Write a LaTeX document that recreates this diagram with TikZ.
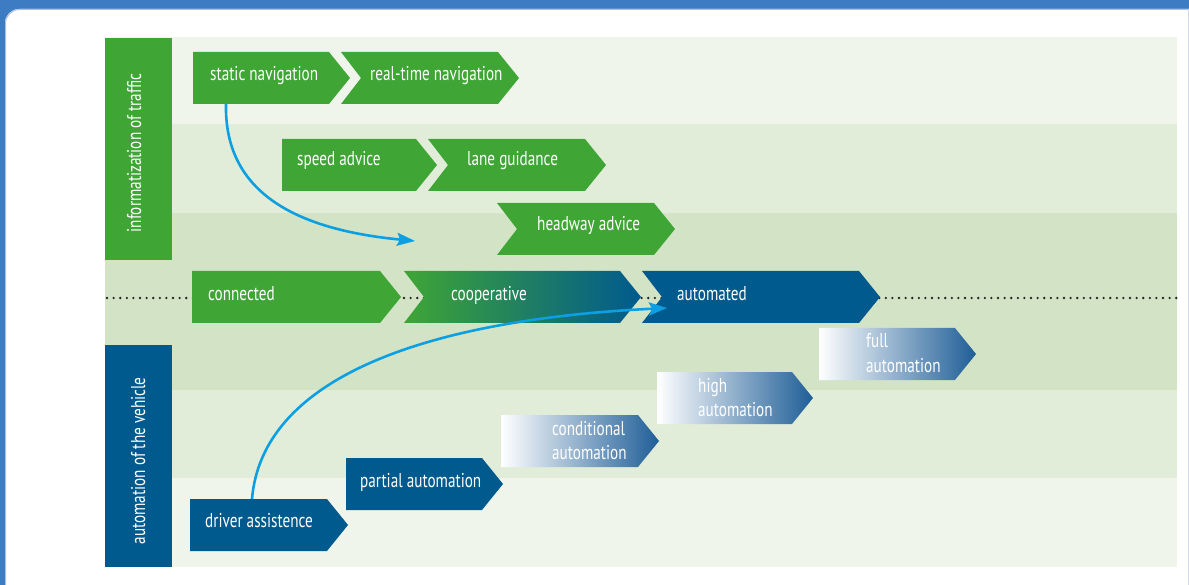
\documentclass[tikz,border=0pt]{standalone}
\usepackage{fontspec}
\setmainfont[FakeStretch=0.76]{PT Sans}
\usetikzlibrary{arrows.meta}

\definecolor{frameblue}{HTML}{3D7CC2}
\definecolor{edgecol}{HTML}{AFC0D8}
\definecolor{bandA}{HTML}{EFF5EA}
\definecolor{bandB}{HTML}{E1EDD9}
\definecolor{bandC}{HTML}{D3E4C6}
\definecolor{tgreen}{HTML}{3FA535}
\definecolor{vblue}{HTML}{005A8E}
\definecolor{arrowblue}{HTML}{0CA0E3}
\definecolor{gradmid}{HTML}{9AA6CC}
\definecolor{gradend}{HTML}{1F5E97}

\tikzset{
  boxarea/.style={inner sep=0pt, outer sep=0pt, minimum height=52pt},
  txt/.style={text=white, font=\fontsize{20}{24}\selectfont, inner sep=0pt, anchor=base west},
  coltxt/.style={text=white, font=\fontsize{20}{24}\selectfont, inner sep=0pt, anchor=base, rotate=90},
  colbox/.style={inner sep=0pt, outer sep=0pt, minimum width=67pt, minimum height=222pt, anchor=north west},
  flow/.style={draw=arrowblue, line width=2.6pt, -{Stealth[length=18pt,width=13pt,inset=3pt]}},
  dotline/.style={draw=black!85, line width=2.6pt, dash pattern=on 0pt off 6.6pt, line cap=round},
  greenfill/.style={fill=tgreen},
  bluefill/.style={fill=vblue},
  coopfill/.style={left color=tgreen, right color=vblue},
  gradfill/.style={left color=white, middle color=gradmid, right color=gradend},
}

% #1 name, #2 left x, #3 top y, #4 body right x, #5 notch depth, #6 fill style
\newcommand\chevbox[6]{%
  \path[#6] (#2,#3) -- (#4,#3) -- ({#4+21},{#3+26}) -- (#4,{#3+52}) -- (#2,{#3+52}) -- ({#2+#5},{#3+26}) -- cycle;
  \node[boxarea, minimum width={#4-#2}, anchor=north west] (#1) at (#2,#3) {};
}

\begin{document}
\begin{tikzpicture}[x=1pt,y=-1pt]
\useasboundingbox (0,0) rectangle (1189,585);
\clip (0,0) rectangle (1189,585);

% frame
\fill[frameblue] (0,0) rectangle (1189,40);
\fill[frameblue] (0,0) rectangle (8,585);
\fill[white, rounded corners=14] (5,9) rectangle (1240,640);
\draw[edgecol, line width=1pt, rounded corners=14] (5.5,640) -- (5.5,9.5) -- (1240,9.5);
\draw[edgecol!60, line width=1pt] (1188.5,9) -- (1188.5,585);

% bands
\fill[bandA] (105,37) rectangle (1177,124);
\fill[bandB] (105,124) rectangle (1177,213);
\fill[bandC] (105,213) rectangle (1177,390);
\fill[bandB] (105,390) rectangle (1177,478);
\fill[bandA] (105,478) rectangle (1177,567);

% label columns
\node[colbox, fill=tgreen] (infocol) at (105,38) {};
\node[coltxt] (infotxt) at (141,153) {informatization of traffic};
\node[colbox, fill=vblue] (autocol) at (105,345) {};
\node[coltxt] (autotxt) at (145,461) {automation of the vehicle};

% dotted line
\draw[dotline] (107,298) -- (1177,298);

% row 1
\chevbox{sn}{193}{52}{329}{0}{greenfill}
\node[txt] (sn-t) at (210,81) {static navigation};
\chevbox{rn}{341}{52}{498}{20}{greenfill}
\node[txt] (rn-t) at (370,81) {real-time navigation};

% row 2
\chevbox{sa}{282}{139}{416}{0}{greenfill}
\node[txt] (sa-t) at (297,166) {speed advice};
\chevbox{lg}{428}{139}{585}{20}{greenfill}
\node[txt] (lg-t) at (467,166) {lane guidance};

% row 3
\chevbox{ha}{497}{203}{654}{20}{greenfill}
\node[txt] (ha-t) at (537,231) {headway advice};

% row 4
\chevbox{cn}{192}{271}{380}{0}{greenfill}
\node[txt] (cn-t) at (208,301) {connected};
\chevbox{co}{404}{271}{620}{20}{coopfill}
\node[txt] (co-t) at (451,301) {cooperative};
\chevbox{au}{642}{271}{859}{20}{bluefill}
\node[txt] (au-t) at (677,301) {automated};

% automation levels
\chevbox{fa}{819}{328}{955}{0}{gradfill}
\node[txt] (fa-t1) at (866,348) {full};
\node[txt] (fa-t2) at (866,372) {automation};
\chevbox{hi}{657}{372}{792}{0}{gradfill}
\node[txt] (hi-t1) at (698,392) {high};
\node[txt] (hi-t2) at (698,416) {automation};
\chevbox{ca}{501}{415}{638}{0}{gradfill}
\node[txt] (ca-t1) at (552,435) {conditional};
\node[txt] (ca-t2) at (552,459) {automation};
\chevbox{pa}{346}{458}{482}{0}{bluefill}
\node[txt] (pa-t) at (360,487) {partial automation};
\chevbox{da}{190}{499}{327}{0}{bluefill}
\node[txt] (da-t) at (205,527) {driver assistence};

% connectors
\coordinate (t1) at (415,241);
\coordinate (t2) at (667,308);
\draw[flow] ([xshift=33pt]sn.south west) .. controls (224,195) and (300,230) .. (t1);
\draw[flow] ([xshift=62pt]da.north west) .. controls (262,380) and (420,320) .. (t2);
\end{tikzpicture}
\end{document}
